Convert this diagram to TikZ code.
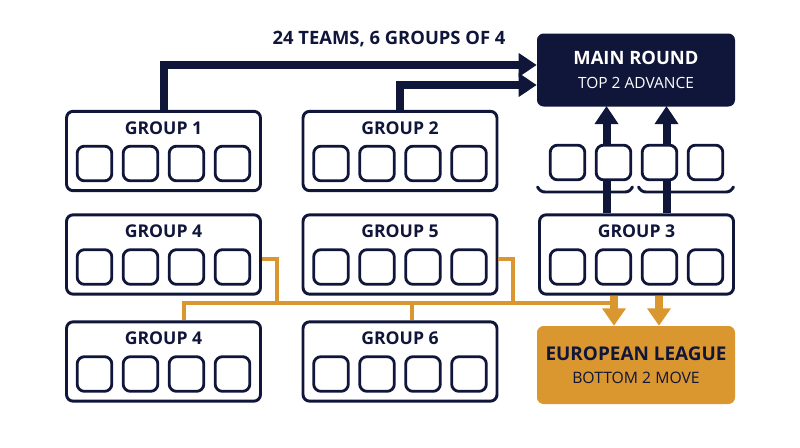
\documentclass[tikz,border=0pt]{standalone}
\usepackage{fontspec}
\setmainfont{Open Sans}
\definecolor{mynavy}{HTML}{10153A}
\definecolor{myorange}{HTML}{DA962F}
\usetikzlibrary{arrows.meta, calc, positioning}
\tikzset{
	groupnode/.style={
			rectangle,
			rounded corners=5pt,
			draw=mynavy,
			line width=2.2pt,
			fill=white,
			minimum width=145.5pt,
			minimum height=59.5pt,
			inner sep=0pt
		},
	teamnode/.style={
			rectangle,
			rounded corners=5.5pt,
			draw=mynavy,
			line width=2.1pt,
			fill=white,
			minimum size=26pt,
			inner sep=0pt
		},
	roundnode/.style={
			rectangle,
			rounded corners=5pt,
			fill=mynavy,
			text=white,
			minimum width=148.5pt,
			minimum height=54.75pt,
			align=center,
			inner sep=0pt
		},
	leaguenode/.style={
			roundnode,
			fill=myorange,
			text=mynavy,
			minimum height=58.5pt
		}
}
\tikzset{
	grouptext/.style={font=\fontsize{13.2}{15}\selectfont\bfseries\color{mynavy}, inner sep=0pt}
}
\tikzset{
	navyarrow/.style={draw=mynavy, line width=6pt, -{Triangle[width=17pt, length=13.5pt]}},
	orangearrow/.style={draw=myorange, line width=6pt, -{Triangle[width=17pt, length=13pt]}},
	orangeline/.style={draw=myorange, line width=3pt},
	bracestyle/.style={draw=mynavy, line width=2.2pt, line cap=round}
}
\newcommand{\groupbox}[4]{%
	\node[groupnode] (#1) at (#2,#3) {};
	\node[grouptext] (#1-t) at ($(#1.center)+(0,-23)$) {#4};
	\foreach \tm in {1,...,4}
		\node[teamnode] (#1-\tm) at ($(#1.center)+(-115+46*\tm,12.5)$) {};
}

\begin{document}
\begin{tikzpicture}[x=0.75pt, y=-0.75pt]
        \useasboundingbox[fill=white] (0,0) rectangle (800,447);

        \node[roundnode, font=\fontsize{13.8}{20}\selectfont] at (636,70) (mr)
              {{\bfseries MAIN ROUND}\\[-2.5pt]{\fontsize{11.6}{14}\selectfont TOP 2 ADVANCE}};
        \node[leaguenode, font=\fontsize{14.2}{20}\selectfont] at (636,365) (el)
              {{\bfseries EUROPEAN LEAGUE}\\[-2.5pt]{\fontsize{11.8}{14}\selectfont BOTTOM 2 MOVE}};

        \node[grouptext, font=\fontsize{13.8}{16}\selectfont\bfseries\color{mynavy}] at (389,39.5) (title)
              {24 TEAMS, 6 GROUPS OF 4};

        % arrows into the main round
        \draw[navyarrow] (163.5,110) |- (mr.west |- 0,65);
        \draw[navyarrow] (400,110) |- (mr.west |- 0,85);
        \draw[navyarrow] (606.5,213) -- (606.5,106);
        \draw[navyarrow] (666.5,213) -- (666.5,106);

        \groupbox{g1}{163.5}{151}{GROUP 1}
        \groupbox{g2}{400}{151}{GROUP 2}
        \groupbox{g4a}{163.5}{254.5}{GROUP 4}
        \groupbox{g5}{400}{254.5}{GROUP 5}
        \groupbox{g4b}{163.5}{361.5}{GROUP 4}
        \groupbox{g6}{400}{361.5}{GROUP 6}

        % top two of group 3
        \foreach \tm in {1,...,4}
          \node[teamnode] (f\tm) at (521.5+46*\tm,162.5) {};
        \draw[bracestyle] (537.5,187) to[out=-60,in=180] (545,192) -- (625,192) to[out=0,in=-120] (632.5,187);
        \draw[bracestyle] (638.5,187) to[out=-60,in=180] (646,192) -- (726,192) to[out=0,in=-120] (733.5,187);

        % bottom two into the european league
        \coordinate (j1) at (277,303);
        \coordinate (j2) at (513,303);
        \coordinate (j3) at (614,303);
        \draw[orangeline] ($(g4a.east)+(0,4.5)$) -| (j1);
        \draw[orangeline] ($(g5.east)+(0,4.5)$) -| (j2);
        \draw[orangeline] ($(g4b.north)+(20,0)$) |- (j3);
        \draw[orangeline] ($(g6.north)+(12,0)$) -- ($(g6.north)+(12,-17)$);
        \draw[orangearrow] (614,296) -- (el.north -| j3);
        \draw[orangearrow] (659,296) -- (el.north -| 659,0);

        \groupbox{g3}{636.5}{254.5}{GROUP 3}
      \end{tikzpicture}
\end{document}
